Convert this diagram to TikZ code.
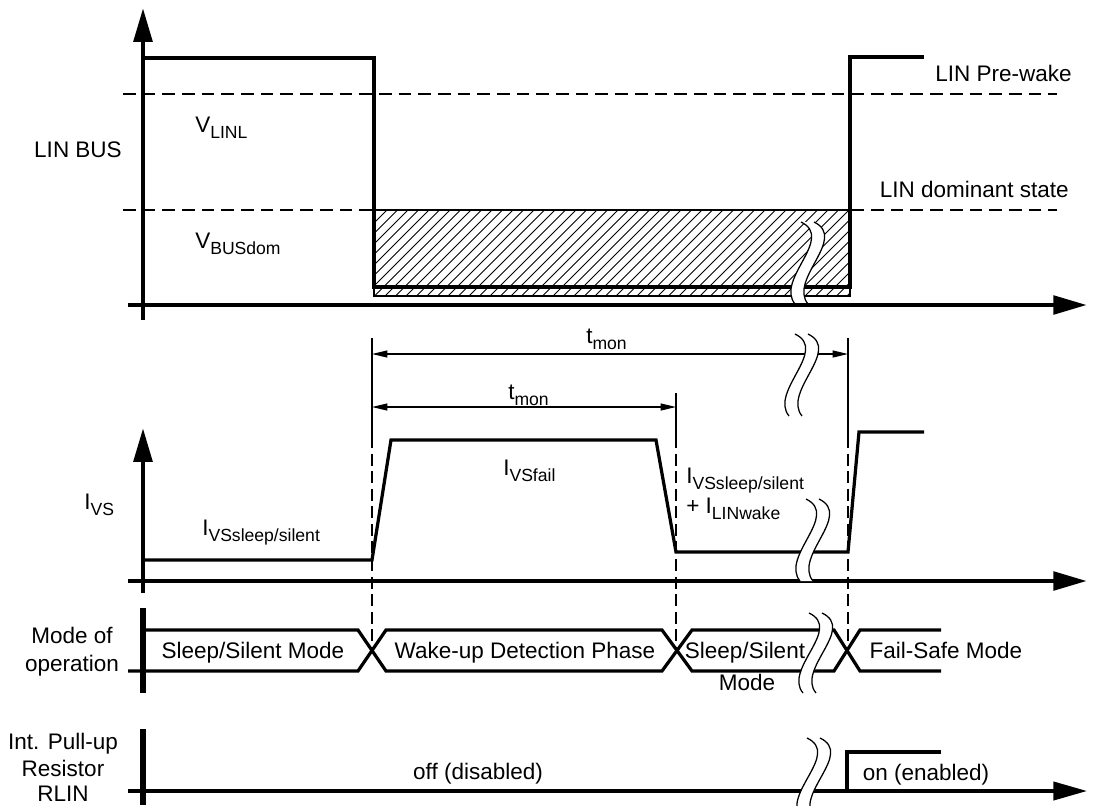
\documentclass[tikz,border=0pt]{standalone}
\usepackage{fontspec}
\setmainfont{Liberation Sans}
\usetikzlibrary{arrows.meta}
\newcommand{\sbs}[1]{\raisebox{-4.3pt}{\fontsize{12.5}{13}\selectfont #1}}
\newcommand{\brkmark}[3]{%
  \begin{scope}[shift={(#1,#2)},yscale=#3/80]
    \fill[white] (6,0) .. controls (40,16) and (-20,56) .. (0,80) -- (13,80) .. controls (-7,56) and (53,16) .. (19,0) -- cycle;
    \draw[thinline] (6,0) .. controls (40,16) and (-20,56) .. (0,80);
    \draw[thinline] (19,0) .. controls (53,16) and (-7,56) .. (13,80);
  \end{scope}}
\begin{document}
\begin{tikzpicture}[x=0.025cm,y=-0.025cm,
  axis/.style={line width=3.2pt},
  axarrow/.style={line width=3.4pt,-{Triangle[length=24pt,width=13pt]}},
  sig/.style={line width=2.3pt},
  thinline/.style={line width=0.9pt},
  hatchline/.style={line width=0.6pt},
  guide/.style={line width=1.1pt,dash pattern=on 9pt off 5pt},
  vguide/.style={line width=1pt,dash pattern=on 8.5pt off 4pt},
  dimline/.style={line width=0.9pt,{Triangle[length=11pt,width=5pt]}-{Triangle[length=11pt,width=5pt]}},
  lbl/.style={font=\fontsize{16}{19}\selectfont, inner sep=0pt},
]
\useasboundingbox (0,0) rectangle (1093,805);

% ---------------- LIN BUS ----------------
\draw[guide] (123,94) -- (1057,94);
\draw[guide] (123,210) -- (1057,210);
\begin{scope}
  \clip (374,210) rectangle (850,296);
  \foreach \i in {280,290.5,...,860} \draw[hatchline] (\i,296) -- ++(90,-90);
\end{scope}
\draw[line width=1.2pt] (374,210) rectangle (850,296);
\draw[sig] (143,58) -- (374,58) -- (374,287) -- (850,287) -- (850,57) -- (924,57);
\brkmark{795}{222}{82}
\draw[axis] (143,320) -- (143,40);
\draw[axarrow] (143,40) -- (143,8);
\draw[axarrow] (128,305) -- (1087,305);

\node[lbl] (linbus) at (78,150) {LIN BUS};
\node[lbl,anchor=base west] (vlinl) at (195,132) {V\sbs{LINL}};
\node[lbl,anchor=base west] (vbusdom) at (195,248) {V\sbs{BUSdom}};
\node[lbl,anchor=base east] (prewake) at (1072,81) {LIN Pre-wake};
\node[lbl,anchor=base east] (domstate) at (1069,197) {LIN dominant state};

% ---------------- t_mon ----------------
\draw[thinline] (372,338) -- (372,436);
\draw[thinline] (676,393) -- (676,436);
\draw[thinline] (848,338) -- (848,436);
\draw[dimline] (372,354) -- (848,354);
\draw[dimline] (372,407) -- (676,407);
\brkmark{789}{334}{82}
\node[lbl,anchor=base west] (tmon1) at (586,343) {t\sbs{mon}};
\node[lbl,anchor=base west] (tmon2) at (508,399) {t\sbs{mon}};

% ---------------- I_VS ----------------
\draw[vguide] (372,436) -- (372,651);
\draw[vguide] (676,436) -- (676,651);
\draw[vguide] (848,436) -- (848,651);
\draw[sig] (143,560) -- (372,560) -- (391,440) -- (656,440) -- (676,552) -- (848,552) -- (859,432) -- (924,432);
\draw[axis] (143,593) -- (143,460);
\draw[axarrow] (143,460) -- (143,428);
\draw[axarrow] (128,581) -- (1087,581);
\brkmark{800}{499}{82}

\node[lbl,anchor=base west] (ivs) at (84,509) {I\sbs{VS}};
\node[lbl,anchor=base west] (ivssleep) at (202,535) {I\sbs{VSsleep/silent}};
\node[lbl,anchor=base west] (ivsfail) at (503,475) {I\sbs{VSfail}};
\node[lbl,anchor=base west] (ivssum1) at (686,483) {I\sbs{VSsleep/silent}};
\node[lbl,anchor=base west] (ivssum2) at (686,513) {+ I\sbs{LINwake}};

% ---------------- Mode of operation ----------------
\draw[sig] (143,630) -- (358,630) -- (386,671) -- (662,671) -- (692,630) -- (834,630) -- (860,671) -- (941,671);
\draw[sig] (128,671) -- (358,671) -- (386,630) -- (662,630) -- (692,671) -- (834,671) -- (860,630) -- (941,630);
\draw[line width=3.6pt] (143,608) -- (143,693);
\brkmark{803}{613}{80}

\node[lbl,anchor=base] (mode1) at (72,643) {Mode of};
\node[lbl,anchor=base] (mode2) at (72,671) {operation};
\node[lbl,anchor=base] (m1) at (253,658) {Sleep/Silent Mode};
\node[lbl,anchor=base] (m2) at (525,658) {Wake-up Detection Phase};
\node[lbl,anchor=base] (m3) at (745,658) {Sleep/Silent};
\node[lbl,anchor=base] (m3b) at (747,690) {Mode};
\node[lbl,anchor=base] (m4) at (946,658) {Fail-Safe Mode};

% ---------------- Pull-up ----------------
\draw[line width=2.4pt,-{Triangle[length=24pt,width=13pt]}] (128,791) -- (1087,791);
\draw[sig] (847,791) -- (847,752) -- (941,752);
\draw[line width=3.6pt] (143,729) -- (143,805);
\brkmark{801}{738}{80}

\node[lbl,anchor=base] (pu1) at (63,749) {Int. Pull-up};
\node[lbl,anchor=base] (pu2) at (63,776) {Resistor};
\node[lbl,anchor=base] (pu3) at (63,801) {RLIN};
\node[lbl,anchor=base] (off) at (478,779) {off (disabled)};
\node[lbl,anchor=base] (on) at (926,780) {on (enabled)};
\end{tikzpicture}
\end{document}
